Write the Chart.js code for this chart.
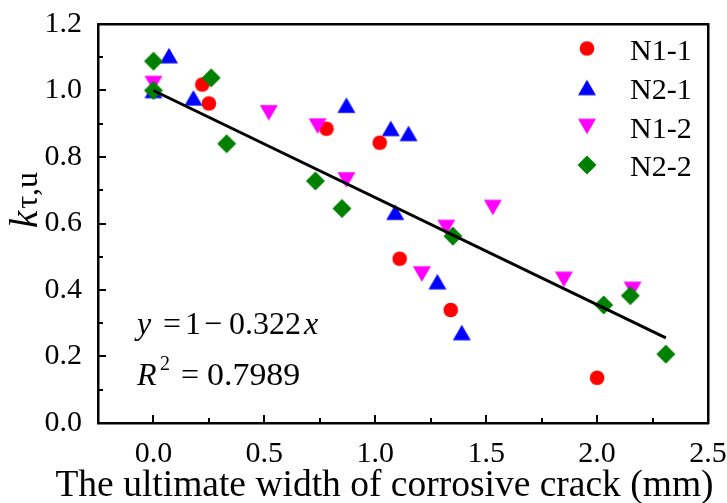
<!DOCTYPE html>
<html>
<head>
<meta charset="utf-8">
<script src="https://cdn.jsdelivr.net/npm/chart.js@4.4.1/dist/chart.umd.min.js"></script>
<style>
html,body{margin:0;padding:0;background:#fff;}
#wrap{width:727px;height:503px;}
</style>
</head>
<body>
<div id="wrap"><canvas id="c" width="727" height="503"></canvas></div>
<script>
// ---- data ----
const seriesNames = ['N1-1', 'N2-1', 'N1-2', 'N2-2'];
const n11X = [0.22, 0.25, 0.78, 1.02, 1.11, 1.34, 2.00];
const n11Y = [1.018, 0.961, 0.885, 0.843, 0.494, 0.340, 0.136];
const n21X = [0.00, 0.07, 0.18, 0.87, 1.07, 1.15, 1.09, 1.28, 1.39];
const n21Y = [1.000, 1.105, 0.978, 0.956, 0.886, 0.871, 0.634, 0.425, 0.272];
const n12X = [0.00, 0.52, 0.74, 0.87, 1.21, 1.32, 1.53, 1.85, 2.16];
const n12Y = [1.021, 0.933, 0.893, 0.731, 0.448, 0.588, 0.648, 0.432, 0.402];
const n22X = [0.00, 0.00, 0.26, 0.33, 0.73, 0.85, 1.35, 2.03, 2.15, 2.31];
const n22Y = [1.088, 1.000, 1.038, 0.840, 0.728, 0.645, 0.562, 0.355, 0.383, 0.207];
const fitX = [0.00, 2.31];
const fitY = [1.000, 0.256];
const xTicks = [0.0, 0.5, 1.0, 1.5, 2.0, 2.5];
const xMinor = [0.25, 0.75, 1.25, 1.75, 2.25];
const yTicks = [0.0, 0.2, 0.4, 0.6, 0.8, 1.0, 1.2];
const yMinor = [0.1, 0.3, 0.5, 0.7, 0.9, 1.1];
const xTitle = 'The ultimate width of corrosive crack (mm)';
const yTitleMain = 'k';
const yTitleSub = 'τ,u';
const eqLine1 = ['y', '=', '1', '−', '0.322', 'x'];
const eqLine2 = ['R', '2', '=', '0.7989'];

const FONT = '"Liberation Serif", "Times New Roman", Times, serif';
const X_MIN = -0.25, X_MAX = 2.5, Y_MIN = 0, Y_MAX = 1.2;

function pts(xs, ys) { return xs.map((x, i) => ({x: x, y: ys[i]})); }

function makeMarker(shape, color) {
  const c = document.createElement('canvas');
  c.width = 22; c.height = 22;
  const g = c.getContext('2d');
  g.fillStyle = color;
  g.beginPath();
  const m = 11;
  if (shape === 'circle') {
    g.arc(m, m, 7.3, 0, Math.PI * 2);
  } else if (shape === 'up') {
    g.moveTo(m - 9, m + 7.8); g.lineTo(m + 9, m + 7.8); g.lineTo(m, m - 7.8);
  } else if (shape === 'down') {
    g.moveTo(m - 9, m - 7.8); g.lineTo(m + 9, m - 7.8); g.lineTo(m, m + 7.8);
  } else {
    g.moveTo(m, m - 9.5); g.lineTo(m + 9.5, m); g.lineTo(m, m + 9.5); g.lineTo(m - 9.5, m);
  }
  g.closePath();
  g.fill();
  return c;
}

const colors = ['#ff0000', '#0000ff', '#ff00ff', '#008000'];
const markers = [
  makeMarker('circle', colors[0]),
  makeMarker('up', colors[1]),
  makeMarker('down', colors[2]),
  makeMarker('diamond', colors[3])
];

function drawTicks(chart) {
  const ctx = chart.ctx;
  const xs = chart.scales.x, ys = chart.scales.y;
  const L = xs.getPixelForValue(X_MIN);
  const B = ys.getPixelForValue(Y_MIN);
  ctx.save();
  ctx.fillStyle = '#000000';
  xTicks.forEach(v => { const p = Math.round(xs.getPixelForValue(v)); ctx.fillRect(p - 1, B - 8, 2, 8); });
  xMinor.forEach(v => { const p = Math.round(xs.getPixelForValue(v)); ctx.fillRect(p - 1, B - 5, 2, 5); });
  yTicks.forEach(v => { const p = Math.round(ys.getPixelForValue(v)); ctx.fillRect(L, p - 1, 8, 2); });
  yMinor.forEach(v => { const p = Math.round(ys.getPixelForValue(v)); ctx.fillRect(L, p - 1, 5, 2); });
  ctx.restore();
}

const decorPlugin = {
  id: 'decor',
  afterDraw(chart) {
    drawTicks(chart);
    const ctx = chart.ctx;
    ctx.save();
    ctx.fillStyle = '#000000';
    // x title
    ctx.font = '37.5px ' + FONT;
    ctx.textAlign = 'center';
    ctx.textBaseline = 'alphabetic';
    ctx.fillText(xTitle, 384.5, 496);

    // y title (rotated)
    ctx.save();
    ctx.translate(37, 200);
    ctx.rotate(-Math.PI / 2);
    ctx.textAlign = 'left';
    const fk = 'italic 39px ' + FONT, fs = '32px ' + FONT;
    ctx.font = fk; const wk = ctx.measureText(yTitleMain).width;
    ctx.font = fs; const ws = ctx.measureText(yTitleSub).width;
    const start = -(wk + ws + 2) / 2;
    ctx.font = fk; ctx.fillText(yTitleMain, start, 0);
    ctx.font = fs; ctx.fillText(yTitleSub, start + wk + 2, 0);
    ctx.restore();

    // equation
    ctx.textAlign = 'left';
    const it = 'italic 32px ' + FONT, nm = '32px ' + FONT;
    const b1 = 334, b2 = 385;
    ctx.font = it; ctx.fillText(eqLine1[0], 137, b1);
    ctx.font = nm;
    ctx.fillText(eqLine1[1], 163, b1);
    ctx.fillText(eqLine1[2], 185, b1);
    ctx.fillText(eqLine1[3], 204, b1);
    ctx.fillText(eqLine1[4], 229, b1);
    ctx.font = it; ctx.fillText(eqLine1[5], 304, b1);
    ctx.font = it; ctx.fillText(eqLine2[0], 137, b2);
    ctx.font = '20px ' + FONT; ctx.fillText(eqLine2[1], 160, b2 - 15);
    ctx.font = nm; ctx.fillText(eqLine2[2], 181, b2);
    ctx.save(); ctx.translate(207, b2); ctx.scale(1.06, 1); ctx.fillText(eqLine2[3], 0, 0); ctx.restore();

    // legend
    const rows = [48.5, 87.5, 126.5, 165];
    ctx.font = '30px ' + FONT;
    seriesNames.forEach((n, i) => {
      ctx.drawImage(markers[i], 587 - 11, rows[i] - 11);
      ctx.fillText(n, 630, rows[i] + 11);
    });
    ctx.restore();
  }
};

const tickFont = {family: FONT, size: 30, lineHeight: 1.0};
const frameBorder = {display: true, color: '#000000', width: 2.5};

new Chart(document.getElementById('c'), {
  data: {
    datasets: [
      {type: 'scatter', label: seriesNames[0], data: pts(n11X, n11Y), pointStyle: markers[0], order: 4},
      {type: 'scatter', label: seriesNames[1], data: pts(n21X, n21Y), pointStyle: markers[1], order: 3},
      {type: 'scatter', label: seriesNames[2], data: pts(n12X, n12Y), pointStyle: markers[2], order: 2},
      {type: 'scatter', label: seriesNames[3], data: pts(n22X, n22Y), pointStyle: markers[3], order: 1},
      {type: 'line', label: 'fit', data: pts(fitX, fitY), borderColor: '#000', borderWidth: 3,
       pointRadius: 0, fill: false, tension: 0, order: 0}
    ]
  },
  options: {
    responsive: false,
    devicePixelRatio: 1,
    animation: false,
    layout: {padding: {top: 24, right: 19, left: 0, bottom: 0}},
    plugins: {legend: {display: false}, tooltip: {enabled: false}},
    scales: {
      x: {
        type: 'linear', position: 'bottom', min: X_MIN, max: X_MAX,
        afterBuildTicks: s => { s.ticks = xTicks.map(v => ({value: v})); },
        afterFit: s => { s.height = 80; s.paddingLeft = 0; s.paddingRight = 0; },
        grid: {display: false, drawTicks: false},
        border: frameBorder,
        ticks: {font: tickFont, color: '#000', padding: 16, maxRotation: 0,
                callback: v => Number(v).toFixed(1)}
      },
      xTop: {
        type: 'linear', position: 'top', min: X_MIN, max: X_MAX,
        afterFit: s => { s.height = 0; s.paddingLeft = 0; s.paddingRight = 0; },
        grid: {display: false, drawTicks: false},
        border: frameBorder,
        ticks: {display: false}
      },
      y: {
        type: 'linear', position: 'left', min: Y_MIN, max: Y_MAX,
        afterBuildTicks: s => { s.ticks = yTicks.map(v => ({value: v})); },
        afterFit: s => { s.width = 98; s.paddingTop = 0; s.paddingBottom = 0; },
        grid: {display: false, drawTicks: false},
        border: frameBorder,
        ticks: {font: tickFont, color: '#000', padding: 16,
                callback: v => Number(v).toFixed(1)}
      },
      yRight: {
        type: 'linear', position: 'right', min: Y_MIN, max: Y_MAX,
        afterFit: s => { s.width = 0; s.paddingTop = 0; s.paddingBottom = 0; },
        grid: {display: false, drawTicks: false},
        border: frameBorder,
        ticks: {display: false}
      }
    }
  },
  plugins: [decorPlugin]
});
</script>
</body>
</html>
